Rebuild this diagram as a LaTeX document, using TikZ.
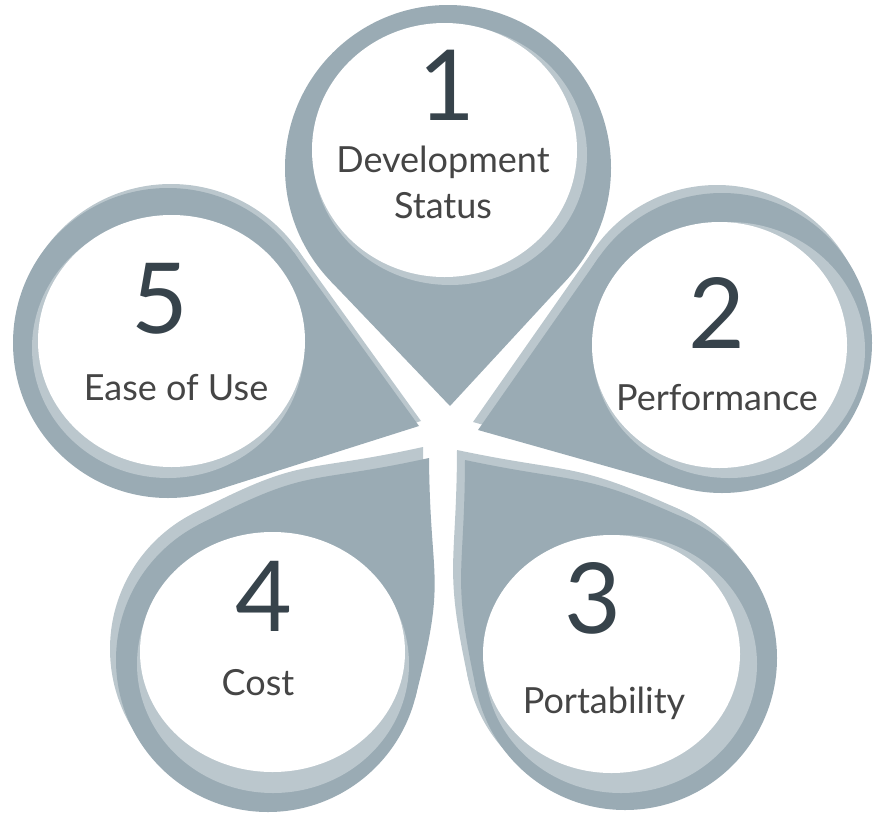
\documentclass[tikz,border=0pt]{standalone}
\usepackage{fontspec}
\setmainfont{Lato}
\usetikzlibrary{calc}
\definecolor{petaldark}{HTML}{9AABB4}
\definecolor{petallight}{HTML}{BBC7CD}
\definecolor{numcol}{HTML}{37434B}
\definecolor{labcol}{HTML}{454545}
% #1 colour, #2 cx, #3 cy, #4 R, #5 tip x, #6 tip y, #7 bulge
\newcommand\teardrop[7]{%
 \pgfmathsetmacro\tdrX{#5-#2}%
 \pgfmathsetmacro\tdrY{#6-#3}%
 \pgfmathsetmacro\tdrD{veclen(\tdrX,\tdrY)}%
 \pgfmathsetmacro\tdrA{atan2(\tdrY,\tdrX)}%
 \pgfmathsetmacro\tdrT{acos(#4/\tdrD)+#7}%
 \pgfmathsetmacro\tdrB{asin(#4/\tdrD)+#7/4}%
 \pgfmathsetmacro\tdrK{(0.3+#7/60)*\tdrD}%
 \fill[#1] (#2,#3) circle[radius=#4];
 \fill[#1] (#5,#6) .. controls +({\tdrA+180-\tdrB}:\tdrK) and +({\tdrA+\tdrT-90}:\tdrK) ..
   ($(#2,#3)+({\tdrA+\tdrT}:#4)$) -- (#2,#3) -- ($(#2,#3)+({\tdrA-\tdrT}:#4)$)
   .. controls +({\tdrA-\tdrT+90}:\tdrK) and +({\tdrA+180+\tdrB}:\tdrK) .. (#5,#6) -- cycle;
}
\tikzset{
  num/.style={text=numcol, inner sep=0pt, anchor=base, font=\fontsize{98}{98}\selectfont},
  lab/.style={text=labcol, inner sep=0pt, anchor=base, font=\fontsize{36}{40}\selectfont},
}
\begin{document}
\begin{tikzpicture}[x=1pt,y=-1pt]
\useasboundingbox (0,0) rectangle (873,814);
% outer light copies
\teardrop{petallight}{717}{335}{150}{473}{422}{0}
\teardrop{petallight}{617}{648}{152}{457}{450}{10}
\teardrop{petallight}{262}{649}{152}{423}{447}{12}
\teardrop{petallight}{171}{339}{155}{421}{421}{0}
% dark teardrops
\teardrop{petaldark}{448}{168}{163}{450}{406}{0}
\teardrop{petaldark}{722}{343}{150}{478}{430}{0}
\teardrop{petaldark}{625}{658}{152}{465}{460}{10}
\teardrop{petaldark}{268}{660}{152}{429}{458}{12}
\teardrop{petaldark}{168}{343}{155}{419}{426}{0}
% inner light crescents
\fill[petallight] (450,155) ellipse[x radius=137, y radius=130];
\fill[petallight] (729,350) ellipse[x radius=136, y radius=128];
\fill[petallight] (621,664) ellipse[x radius=136, y radius=129];
\fill[petallight] (273,664) ellipse[x radius=136, y radius=129];
\fill[petallight] (168,348) ellipse[x radius=136, y radius=130];
% white discs
\fill[white] (444.5,150) ellipse[x radius=132.5, y radius=127];
\fill[white] (719.5,345) ellipse[x radius=127.5, y radius=123];
\fill[white] (611.5,654) ellipse[x radius=128.5, y radius=119];
\fill[white] (272.5,652) ellipse[x radius=132.5, y radius=120];
\fill[white] (171.5,341) ellipse[x radius=133.5, y radius=126];
% texts
\node[num] (n1) at (447,120) {1};
\node[lab] (l1a) at (443,172) {Development};
\node[lab] (l1b) at (443,218) {Status};
\node[num] (n2) at (717,348) {2};
\node[lab] (l2) at (717,410) {Performance};
\node[num] (n3) at (593,633) {3};
\node[lab] (l3) at (604,713) {Portability};
\node[num] (n4) at (264,631) {4};
\node[lab] (l4) at (258,695) {Cost};
\node[num] (n5) at (160,333) {5};
\node[lab] (l5) at (176,400) {Ease of Use};
\end{tikzpicture}
\end{document}
